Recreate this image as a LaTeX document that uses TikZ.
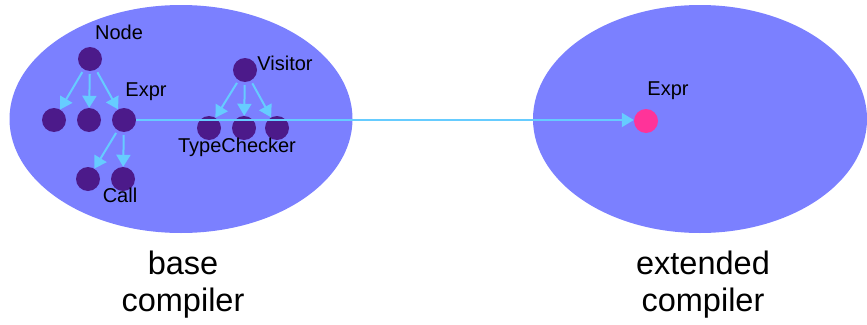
\documentclass[tikz,border=0pt]{standalone}
\usepackage{fontspec}
\setmainfont{Liberation Sans}
\usetikzlibrary{arrows.meta}
\definecolor{blob}{RGB}{123,128,255}
\definecolor{dot}{RGB}{76,26,138}
\definecolor{hot}{RGB}{255,51,153}
\definecolor{link}{RGB}{102,204,255}
\tikzset{
  dotnode/.style={circle, fill=dot, minimum size=24pt, inner sep=0pt},
  hotnode/.style={circle, fill=hot, minimum size=24pt, inner sep=0pt},
  lbl/.style={font=\fontsize{20}{24}\selectfont, text=black, inner sep=0pt},
  captext/.style={font=\fontsize{32.5}{37}\selectfont, align=center, text=black, inner sep=0pt},
  inharrow/.style={draw=link, line width=2pt, shorten <=3pt,
    -{Triangle[length=12pt,width=14pt]}},
}
\begin{document}
\begin{tikzpicture}[x=1pt,y=-1pt]
\useasboundingbox (0,0) rectangle (867,324);
% the two compilers
\fill[blob] (181,119) ellipse [x radius=171.5, y radius=114];
\fill[blob] (700,119) ellipse [x radius=167, y radius=114];

% class hierarchy of the base compiler
\node[dotnode] (node) at (90,59) {};
\node[dotnode] (n1) at (54,120) {};
\node[dotnode] (n2) at (89,120) {};
\node[dotnode] (expr) at (124,120) {};
\node[dotnode] (c1) at (88,179) {};
\node[dotnode] (call) at (123,179) {};
\node[dotnode] (visitor) at (245,70) {};
\node[dotnode] (v1) at (209,128) {};
\node[dotnode] (tc) at (244,128) {};
\node[dotnode] (v3) at (277,128) {};

% extended compiler
\node[hotnode] (xexpr) at (646,121) {};

% labels
\node[lbl] (lnode) at (119,32) {Node};
\node[lbl] (lexpr) at (146,92) {Expr};
\node[lbl] (lvis) at (285,63) {Visitor};
\node[lbl] (ltc) at (237,147) {TypeChecker};
\node[lbl] (lcall) at (120,195) {Call};
\node[lbl] (lxexpr) at (668,91) {Expr};

% inheritance arrows
\draw[inharrow] (node) -- (n1);
\draw[inharrow] (node) -- (n2);
\draw[inharrow] (node) -- (expr);
\draw[inharrow] (expr) -- (c1);
\draw[inharrow] (expr) -- (call);
\draw[inharrow] (visitor) -- (v1);
\draw[inharrow] (visitor) -- (tc);
\draw[inharrow] (visitor) -- (v3);

% extension link
\draw[draw=link, line width=2pt, -{Triangle[length=12pt,width=14pt]}]
  (expr.east) -- (expr.east -| xexpr.west);

% captions
\node[captext] (base) at (183,285) {base\\compiler};
\node[captext] (ext) at (703,285) {extended\\compiler};
\end{tikzpicture}
\end{document}
